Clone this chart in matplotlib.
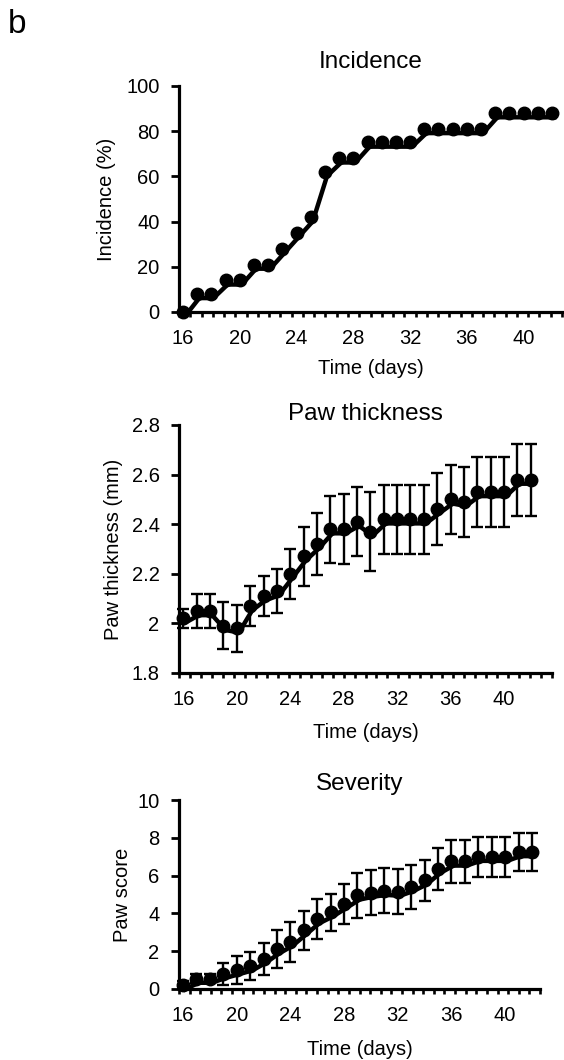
#!/usr/bin/env python3

import numpy as np
import matplotlib
matplotlib.use('Agg')
from matplotlib import pyplot as plt
from matplotlib import transforms
from matplotlib.ticker import FixedLocator, FormatStrFormatter

plt.rcParams['font.family'] = ['Liberation Sans', 'DejaVu Sans']

# day of measurement
days = np.arange(16, 43)

# incidence (%)
incidence = [0, 8, 8, 14, 14, 21, 21, 28, 35, 42, 62, 68, 68, 75, 75, 75, 75,
             81, 81, 81, 81, 81, 88, 88, 88, 88, 88]

# paw thickness (mm) and error
thickness = [2.02, 2.05, 2.05, 1.99, 1.98, 2.07, 2.11, 2.13, 2.20, 2.27, 2.32,
             2.38, 2.38, 2.41, 2.37, 2.42, 2.42, 2.42, 2.42, 2.46, 2.50, 2.49,
             2.53, 2.53, 2.53, 2.58, 2.58]
thickness_err = [0.04, 0.07, 0.07, 0.095, 0.095, 0.08, 0.08, 0.09, 0.10, 0.12,
                 0.125, 0.135, 0.14, 0.14, 0.16, 0.14, 0.14, 0.14, 0.14, 0.145,
                 0.14, 0.14, 0.14, 0.14, 0.14, 0.145, 0.145]

# severity (paw score) and error
severity = [0.2, 0.55, 0.55, 0.8, 1.0, 1.2, 1.6, 2.1, 2.5, 3.1, 3.7, 4.05, 4.5,
            4.95, 5.1, 5.2, 5.15, 5.4, 5.75, 6.35, 6.75, 6.75, 7.0, 7.0, 7.0,
            7.25, 7.25]
severity_err = [0.2, 0.25, 0.25, 0.6, 0.72, 0.75, 0.85, 1.0, 1.05, 1.05, 1.05,
                1.0, 1.05, 1.2, 1.2, 1.2, 1.2, 1.15, 1.1, 1.1, 1.15, 1.15, 1.05,
                1.05, 1.05, 1.0, 1.0]

x_ticks = [16, 20, 24, 28, 32, 36, 40]

W, H = 564, 1060
fig = plt.figure(figsize=(W / 100, H / 100), dpi=100)

FS = 14.5


def px_axes(left, top, right, bottom):
    # axes box given in pixels of the figure
    return fig.add_axes([left / W, 1 - bottom / H, (right - left) / W, (bottom - top) / H])


def style_axes(ax, xlim, ylim, yticks, title, title_pad, ylabel, ylabel_x, xlabel_y, yfmt=None):
    ax.set_xlim(*xlim)
    ax.set_ylim(*ylim)
    for s in ('top', 'right'):
        ax.spines[s].set_visible(False)
    for s in ('left', 'bottom'):
        ax.spines[s].set_linewidth(2.3)
    ax.set_xticks(x_ticks)
    ax.xaxis.set_minor_locator(FixedLocator(np.linspace(xlim[0], xlim[1], 35)))
    ax.tick_params(axis='x', which='major', length=0, labelsize=FS, pad=12)
    ax.tick_params(axis='x', which='minor', length=3.5, width=1.9, direction='out')
    ax.set_yticks(yticks)
    if yfmt:
        ax.yaxis.set_major_formatter(yfmt)
    ax.tick_params(axis='y', length=6, width=2.0, labelsize=FS, pad=8)
    ax.set_title(title, fontsize=17.5, pad=title_pad)
    ax.set_ylabel(ylabel, fontsize=FS)
    ax.yaxis.set_label_coords(ylabel_x, 0.5)
    ax.set_xlabel('Time (days)', fontsize=FS)
    ax.xaxis.set_label_coords(0.5, xlabel_y)


def draw_series(ax, y, err=None):
    # connecting line sits slightly right of and below the markers
    shifted = transforms.offset_copy(ax.transData, fig=fig, x=1.5, y=-3, units='points')
    ax.plot(days, y, color='black', lw=3.2, transform=shifted, clip_on=False, zorder=2)
    if err is not None:
        ax.errorbar(days, y, yerr=err, fmt='none', ecolor='black', elinewidth=1.7,
                    capsize=4.3, capthick=1.7, clip_on=False, zorder=3)
    ax.plot(days, y, 'o', color='black', ms=9, clip_on=False, zorder=4)


# Incidence
ax1 = px_axes(179, 86, 562, 312)
draw_series(ax1, incidence)
style_axes(ax1, (15.72, 42.7), (0, 100), range(0, 101, 20), 'Incidence', 13,
           'Incidence (%)', -0.165, -0.21)

# Paw thickness
ax2 = px_axes(179, 425, 552, 673)
draw_series(ax2, thickness, thickness_err)
style_axes(ax2, (15.67, 43.6), (1.8, 2.8), np.arange(1.8, 2.81, 0.2), 'Paw thickness', 3,
           'Paw thickness (mm)', -0.15, -0.2, FormatStrFormatter('%g'))

# Severity
ax3 = px_axes(179, 800, 540, 989)
draw_series(ax3, severity, severity_err)
style_axes(ax3, (15.7, 42.6), (0, 10), range(0, 11, 2), 'Severity', 7,
           'Paw score', -0.13, -0.27)

fig.text(8 / W, 1 - 33 / H, 'b', fontsize=24, ha='left', va='baseline')

fig.savefig('out.png', dpi=100)
